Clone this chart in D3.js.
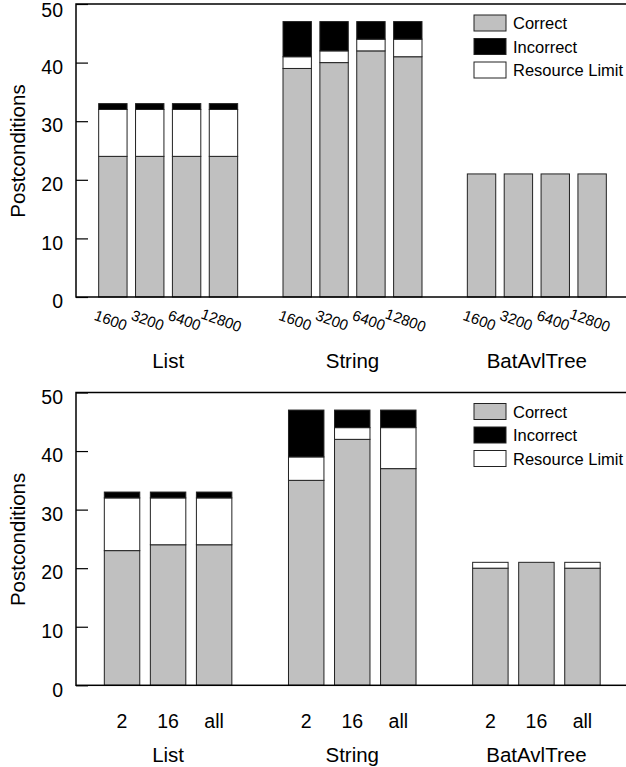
<!DOCTYPE html>
<html>
<head>
<meta charset="utf-8">
<script src="https://cdn.jsdelivr.net/npm/d3@7"></script>
<style>
  body { margin: 0; background: #fff; }
  text { font-family: "Liberation Sans", Arial, Helvetica, sans-serif; fill: #000; }
</style>
</head>
<body>
<svg id="chart" width="626" height="767"></svg>
<script>
// Data
var groups = ["List", "String", "BatAvlTree"];
var keys = ["correct", "limit", "incorrect"];
var legendNames = ["Correct", "Incorrect", "Resource Limit"];
var legendKeys = ["correct", "incorrect", "limit"];
var yTicks = [0, 10, 20, 30, 40, 50];

// top panel: timeout settings
var topLabels = ["1600", "3200", "6400", "12800"];
var topCorrect   = [[24, 24, 24, 24], [39, 40, 42, 41], [21, 21, 21, 21]];
var topLimit     = [[8, 8, 8, 8],     [2, 2, 2, 3],     [0, 0, 0, 0]];
var topIncorrect = [[1, 1, 1, 1],     [6, 5, 3, 3],     [0, 0, 0, 0]];

// bottom panel: unfolding depth
var botLabels = ["2", "16", "all"];
var botCorrect   = [[23, 24, 24], [35, 42, 37], [20, 21, 20]];
var botLimit     = [[9, 8, 8],    [4, 2, 7],    [1, 0, 1]];
var botIncorrect = [[1, 1, 1],    [8, 3, 3],    [0, 0, 0]];

var colors = {correct: "#c0c0c0", incorrect: "#000000", limit: "#ffffff"};

var svg = d3.select("#chart");

function buildRows(labels, corr, lim, inc) {
    var rows = [];
    groups.forEach(function(g, gi) {
        labels.forEach(function(l, li) {
            rows.push({
                group: g, label: l,
                slot: gi * (labels.length + 1) + li,
                correct: corr[gi][li], limit: lim[gi][li], incorrect: inc[gi][li]
            });
        });
    });
    return rows;
}

function drawPanel(opt) {
    var rows = buildRows(opt.labels, opt.corr, opt.lim, opt.inc);
    var nSlots = groups.length * (opt.labels.length + 1);

    var x = d3.scaleLinear().domain([-1, nSlots - 1]).range([76, opt.right]);
    var y = d3.scaleLinear().domain([0, 50]).range([opt.bottom, opt.top]);
    var pitch = x(1) - x(0);
    var bw = pitch * 0.77;

    var g = svg.append("g");

    // y axis with inward ticks
    var yAxis = g.append("g")
        .attr("transform", "translate(" + x(-1) + ",0)")
        .call(d3.axisLeft(y).tickValues(yTicks).tickSizeInner(-12).tickSizeOuter(0).tickPadding(13));
    yAxis.select(".domain").remove();
    yAxis.selectAll(".tick line").attr("stroke", "#000").attr("stroke-width", 1.2);
    yAxis.selectAll(".tick text")
        .attr("transform", function(d) {
            // keep the top label inside the picture
            var shift = (d === 50 && opt.top < 10) ? 6.5 : 4.5;
            return "translate(0," + shift + ")";
        })
        .style("font-family", "Liberation Sans, Arial, sans-serif")
        .style("font-size", "19.5px").attr("fill", "#000");

    // stacked bars
    var series = d3.stack().keys(keys)(rows);
    g.selectAll(".layer")
        .data(series).enter()
        .append("g")
        .attr("fill", function(d) { return colors[d.key]; })
        .selectAll("rect")
        .data(function(d) { return d.filter(function(s) { return s[1] > s[0]; }); })
        .enter().append("rect")
        .attr("x", function(d) { return x(d.data.slot) - bw / 2; })
        .attr("width", bw)
        .attr("y", function(d) { return y(d[1]); })
        .attr("height", function(d) { return y(d[0]) - y(d[1]); })
        .attr("stroke", "#222")
        .attr("stroke-width", 1);

    // frame (right side falls outside the picture)
    g.append("rect")
        .attr("x", x(-1)).attr("y", y(50))
        .attr("width", x(nSlots - 1) - x(-1))
        .attr("height", y(0) - y(50))
        .attr("fill", "none").attr("stroke", "#000").attr("stroke-width", 1.5);

    // bar labels
    if (opt.rotate) {
        g.selectAll(".blab").data(rows).enter()
            .append("text")
            .attr("transform", function(d) {
                return "translate(" + [x(d.slot) - 2, opt.labelY] + ")rotate(20)";
            })
            .attr("text-anchor", "middle")
            .attr("dominant-baseline", "central")
            .style("font-size", "15px")
            .text(function(d) { return d.label; });
    } else {
        g.selectAll(".blab").data(rows).enter()
            .append("text")
            .attr("x", function(d) { return x(d.slot); })
            .attr("y", opt.labelY)
            .attr("text-anchor", "middle")
            .style("font-size", "19.5px")
            .text(function(d) { return d.label; });
    }

    // group labels
    g.selectAll(".glab").data(groups).enter()
        .append("text")
        .attr("x", function(d, i) {
            return x(i * (opt.labels.length + 1) + (opt.labels.length - 1) / 2);
        })
        .attr("y", opt.groupY)
        .attr("text-anchor", "middle")
        .style("font-size", "20.5px")
        .text(function(d) { return d; });

    // y axis title
    g.append("text")
        .attr("transform", "translate(" + [25, (opt.top + opt.bottom) / 2 + 0.5] + ")rotate(-90)")
        .attr("text-anchor", "middle")
        .style("font-size", "20.5px")
        .text("Postconditions");

    // legend
    var leg = g.selectAll(".leg").data(legendKeys).enter()
        .append("g")
        .attr("transform", function(d, i) {
            return "translate(" + [474, opt.top + 11 + i * 23.5] + ")";
        });
    leg.append("rect")
        .attr("width", 32).attr("height", 16)
        .attr("fill", function(d) { return colors[d]; })
        .attr("stroke", "#222").attr("stroke-width", 1);
    leg.append("text")
        .attr("x", 39).attr("y", 14)
        .style("font-size", "16.5px")
        .text(function(d, i) { return legendNames[i]; });
}

drawPanel({
    labels: topLabels, corr: topCorrect, lim: topLimit, inc: topIncorrect,
    top: 4, bottom: 297, right: 629, rotate: true, labelY: 320, groupY: 368
});

drawPanel({
    labels: botLabels, corr: botCorrect, lim: botLimit, inc: botIncorrect,
    top: 392.5, bottom: 685.3, right: 628.5, rotate: false, labelY: 727.5, groupY: 762
});
</script>
</body>
</html>
